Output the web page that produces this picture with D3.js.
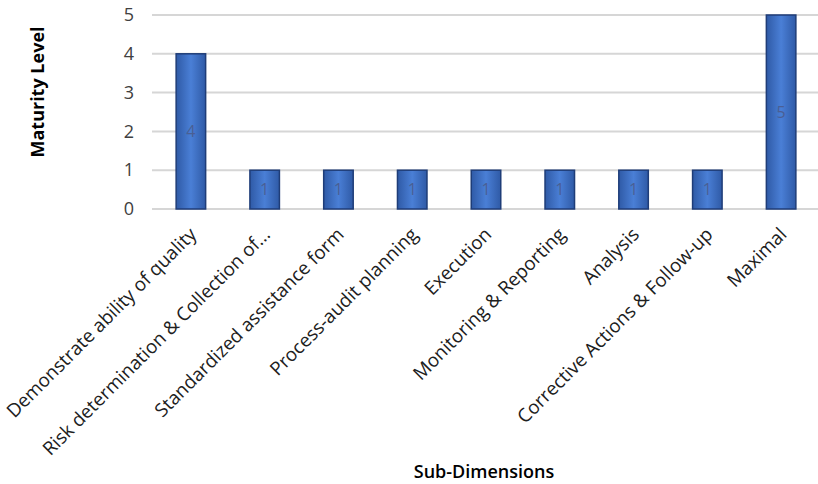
<!DOCTYPE html>
<html><head><meta charset="utf-8">
<script src="https://cdn.jsdelivr.net/npm/d3@7"></script>
<style>
body{margin:0;background:#fff;}
text{font-family:"Open Sans","Liberation Sans",sans-serif;}
</style></head>
<body>
<svg id="chart" width="818" height="484"></svg>
<script>
const categories = ["Demonstrate ability of quality","Risk determination & Collection of...","Standardized assistance form","Process-audit planning","Execution","Monitoring & Reporting","Analysis","Corrective Actions & Follow-up","Maximal"];
const values = [4,1,1,1,1,1,1,1,5];
const yTicks = [0,1,2,3,4,5];
const yTitle = "Maturity Level";
const xTitle = "Sub-Dimensions";

const svg = d3.select("#chart");
const pLeft = 154, pRight = 818, pTop = 15, pBottom = 209;
const x = d3.scaleBand().domain(categories).range([pLeft, pRight]).paddingInner(0.6).paddingOuter(0.3);
const y = d3.scaleLinear().domain([0,5]).range([pBottom, pTop]);

const defs = svg.append("defs");
const grad = defs.append("linearGradient").attr("id","bg").attr("x1","0").attr("x2","1").attr("y1","0").attr("y2","0");
grad.append("stop").attr("offset","0").attr("stop-color","#2f5aa6");
grad.append("stop").attr("offset","0.5").attr("stop-color","#4a7fd6");
grad.append("stop").attr("offset","1").attr("stop-color","#2f5aa6");

// gridlines
svg.append("g").selectAll("line").data(yTicks).join("line")
  .attr("x1", 152).attr("x2", 818)
  .attr("y1", d=>y(d)).attr("y2", d=>y(d))
  .attr("stroke","#d6d6d6").attr("stroke-width",2);

// y axis labels
const yAxis = d3.axisLeft(y).tickValues(yTicks).tickSize(0).tickPadding(0).tickFormat(d3.format("d"));
const ya = svg.append("g").attr("transform","translate(134,0)").call(yAxis);
ya.select(".domain").remove();
ya.selectAll("text").attr("font-size",18).attr("fill","#404040").attr("font-family","Open Sans, Liberation Sans, sans-serif");

// bars
svg.append("g").selectAll("rect").data(values).join("rect")
  .attr("x",(d,i)=>x(categories[i]))
  .attr("width", x.bandwidth())
  .attr("y", d=>y(d))
  .attr("height", d=>y(0)-y(d))
  .attr("fill","url(#bg)")
  .attr("stroke","#1f3d78").attr("stroke-width",1.5);

// data labels
svg.append("g").selectAll("text").data(values).join("text")
  .attr("x",(d,i)=>x(categories[i])+x.bandwidth()/2)
  .attr("y", d=>(y(d)+y(0))/2)
  .attr("dy","0.36em")
  .attr("text-anchor","middle")
  .attr("font-size",16)
  .attr("fill","#4a5f94")
  .text(d=>d);

// x axis labels
const xa = d3.axisBottom(x).tickSize(0).tickPadding(0);
const xg = svg.append("g").attr("transform",`translate(0,${pBottom})`).call(xa);
xg.select(".domain").remove();
xg.selectAll(".tick text")
  .attr("font-size",18.8).attr("fill","#202020")
  .attr("font-family","Open Sans, Liberation Sans, sans-serif")
  .attr("text-anchor","end")
  .attr("transform","translate(2,22) rotate(-45)")
  .attr("dy","0.35em").attr("y",0).attr("x",0);

svg.append("text").attr("transform","translate(44,92) rotate(-90)")
  .attr("text-anchor","middle").attr("font-weight","bold").attr("font-size",18)
  .attr("fill","#000").text(yTitle);

svg.append("text").attr("x",484).attr("y",478)
  .attr("text-anchor","middle").attr("font-size",18).attr("font-weight","600")
  .attr("fill","#000").text(xTitle);
</script>
</body></html>
